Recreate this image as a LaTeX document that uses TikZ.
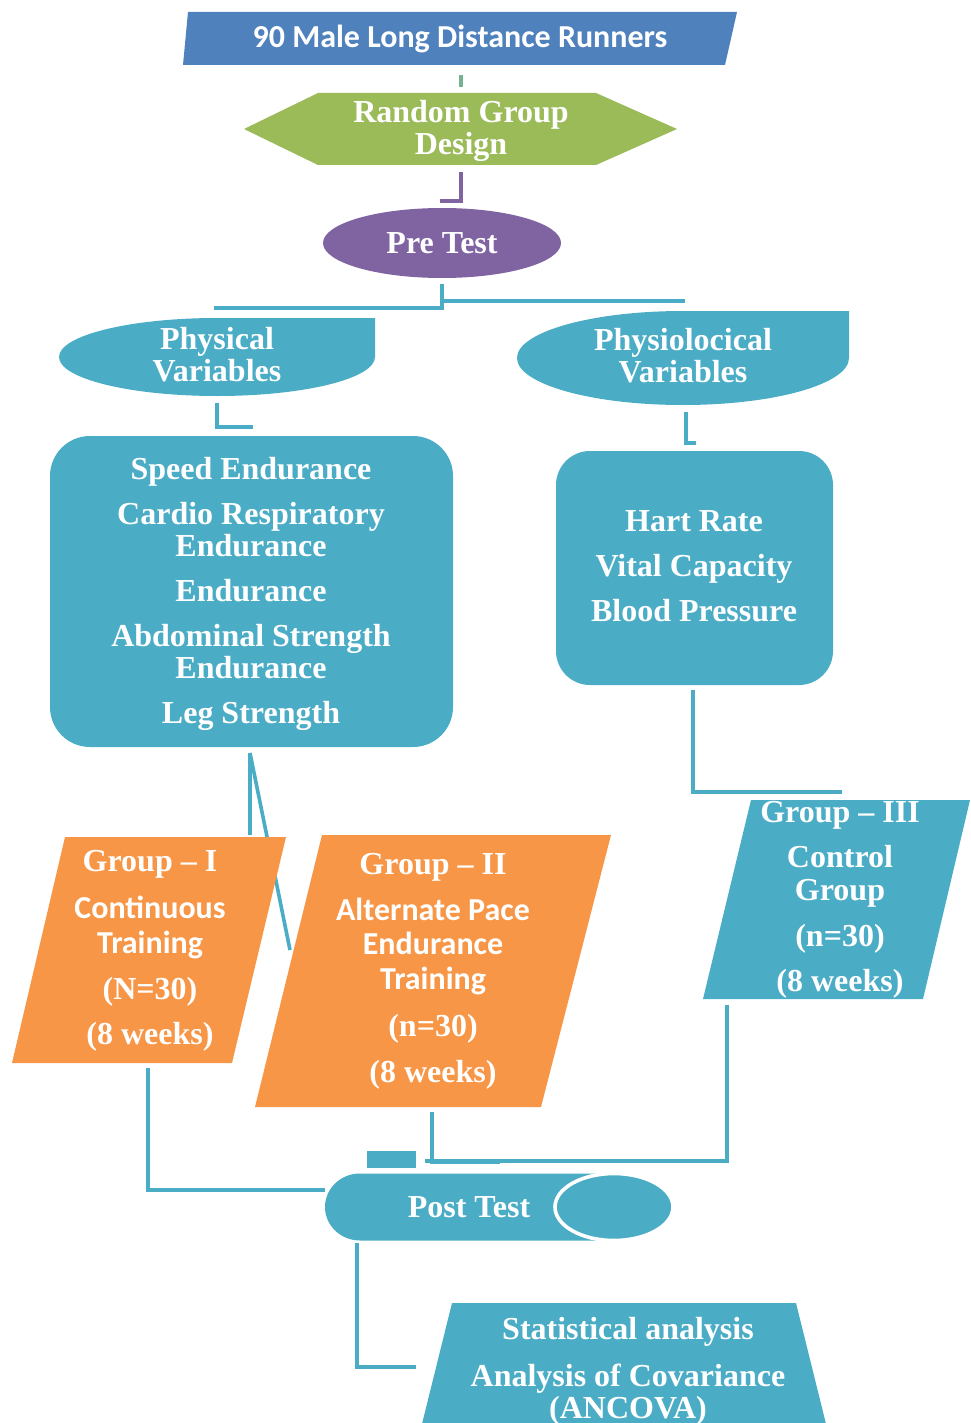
\documentclass[tikz,border=0pt]{standalone}
\usepackage{fontspec}
\setmainfont{Liberation Serif}
\newfontfamily\calib{Carlito}
\usepackage{tikz}

\definecolor{runblue}{RGB}{79,129,189}
\definecolor{grpgreen}{RGB}{155,187,89}
\definecolor{prepurple}{RGB}{128,100,162}
\definecolor{tealc}{RGB}{75,172,198}
\definecolor{orangec}{RGB}{247,150,70}

\begin{document}
\begin{tikzpicture}[x=0.5pt, y=-0.5pt,
		text_style/.style={text=white, inner sep=0pt, align=center, font=\fontsize{16}{16}\selectfont\bfseries},
		sans_style/.style={text_style, font=\fontsize{16}{16}\selectfont\calib\bfseries},
		edge_style/.style={draw=tealc, line width=1.8pt}]
		
		\path[use as bounding box] (0,0) rectangle (970,1423);
		\clip (0,0) rectangle (970,1423);
		
		% connector ends
		\coordinate (top_s) at (461,75);
		\coordinate (top_e) at (461,87);
		\coordinate (des_s) at (461,172);
		\coordinate (des_e) at (440,201);
		\coordinate (pre_s) at (442,284);
		\coordinate (split_l) at (214,308);
		\coordinate (split_r) at (685,301);
		\coordinate (phy_s) at (217,403);
		\coordinate (phy_e) at (253,427);
		\coordinate (psy_s) at (686,412);
		\coordinate (psy_e) at (696,443);
		\coordinate (list_s) at (250,753);
		\coordinate (list_a) at (250,835);
		\coordinate (list_b) at (290,950);
		\coordinate (vit_s) at (693,690);
		\coordinate (vit_e) at (842,792);
		\coordinate (g1_s) at (148,1068);
		\coordinate (g1_e) at (325,1190);
		\coordinate (g2_s) at (432,1112);
		\coordinate (g2_e) at (500,1162);
		\coordinate (g3_s) at (727,1005);
		\coordinate (g3_e) at (425,1161);
		\coordinate (post_s) at (357,1243);
		\coordinate (post_e) at (416,1367);
		
		\draw[edge_style, draw=grpgreen!50!tealc]  (top_s) -- (top_e);
		\draw[edge_style, draw=prepurple]  (des_s) |- (des_e);
		\draw[edge_style]  (pre_s) |- (split_l);
		\draw[edge_style]  (pre_s) |- (split_r);
		\draw[edge_style]  (phy_s) |- (phy_e);
		\draw[edge_style]  (psy_s) |- (psy_e);
		\draw[edge_style]  (list_s) -- (list_a);
		\draw[edge_style]  (list_s) -- (list_b);
		\draw[edge_style]  (vit_s) |- (vit_e);
		\draw[edge_style]  (g1_s) |- (g1_e);
		\draw[edge_style]  (g2_s) |- (g2_e);
		\draw[edge_style]  (g3_s) |- (g3_e);
		\draw[edge_style]  (post_s) |- (post_e);
		\fill[tealc] (367,1151) rectangle (416,1168);
		
		% shapes
		\fill[runblue] (188,12) -- (737,12) -- (725,65) -- (183,65) -- cycle;
		\fill[grpgreen] (244,129) -- (318,93) -- (596,93) -- (677,129) -- (596,165) -- (318,165) -- cycle;
		\fill[prepurple] (442,243) ellipse [x radius=59.5pt, y radius=17.5pt];
		\fill[tealc] (217,318) -- (375,318) -- (375,357)
			arc[start angle=0, end angle=-270, x radius=79pt, y radius=19.5pt] -- cycle;
		\fill[tealc] (683,311) -- (849,311) -- (849,358)
			arc[start angle=0, end angle=-270, x radius=83pt, y radius=23.5pt] -- cycle;
		\fill[tealc, rounded corners=20pt] (50,436) rectangle (453,747);
		\fill[tealc, rounded corners=17pt] (556,451) rectangle (833,685);
		\fill[orangec] (65,837) -- (286,837) -- (232,1063) -- (12,1063) -- cycle;
		\fill[orangec] (322,835) -- (611,835) -- (541,1107) -- (255,1107) -- cycle;
		\fill[tealc] (751,800) -- (970,800) -- (923,999) -- (703,999) -- cycle;
		\fill[tealc] (614,1173.5) -- (360,1173.5)
			arc[start angle=90, end angle=270, x radius=17.5pt, y radius=16.75pt] -- (614,1240.5) -- cycle;
		\filldraw[fill=tealc, draw=white, line width=1.8pt] (614,1207) ellipse [x radius=29.5pt, y radius=16.75pt];
		\fill[tealc] (452,1303) -- (796,1303) -- (830,1440) -- (418,1440) -- cycle;
		
		% texts
		\node[sans_style] (runners) at (460,39) {90 Male Long Distance Runners};
		\node[text_style] (design) at (461,131) {Random Group\\Design};
		\node[text_style] (pretest) at (442,243) {Pre Test};
		\node[text_style] (physical) at (217,355) {Physical\\Variables};
		\node[text_style] (physio) at (683,356) {Physiolocical\\Variables};
		\node[text_style] (physlist) at (251,594) {Speed Endurance\\[6.5pt]
			Cardio Respiratory\\Endurance\\[6.5pt]
			Endurance\\[6.5pt]
			Abdominal Strength\\Endurance\\[6.5pt]
			Leg Strength};
		\node[text_style] (psylist) at (694,566) {Hart Rate\\[6.5pt]
			Vital Capacity\\[6.5pt]
			Blood Pressure};
		\node[text_style] (groupone) at (150,951) {Group -- I\\[7.5pt]
			{\calib Continuous}\\[1.5pt]
			{\calib Training}\\[7pt]
			(N=30)\\[6.5pt]
			(8 weeks)};
		\node[text_style] (grouptwo) at (433,971) {Group -- II\\[7pt]
			{\calib Alternate Pace}\\[1pt]
			{\calib Endurance}\\[1.5pt]
			{\calib Training}\\[7.5pt]
			(n=30)\\[7pt]
			(8 weeks)};
		\node[text_style] (groupthree) at (840,900) {Group -- III\\[6.5pt]
			Control\\[0.5pt]
			Group\\[7pt]
			(n=30)\\[6.5pt]
			(8 weeks)};
		\node[text_style] (posttest) at (469,1207) {Post Test};
		\node[text_style] (stats) at (628,1371) {Statistical analysis\\[7.5pt]
			Analysis of Covariance\\
			(ANCOVA)};
		
		\end{tikzpicture}
\end{document}
